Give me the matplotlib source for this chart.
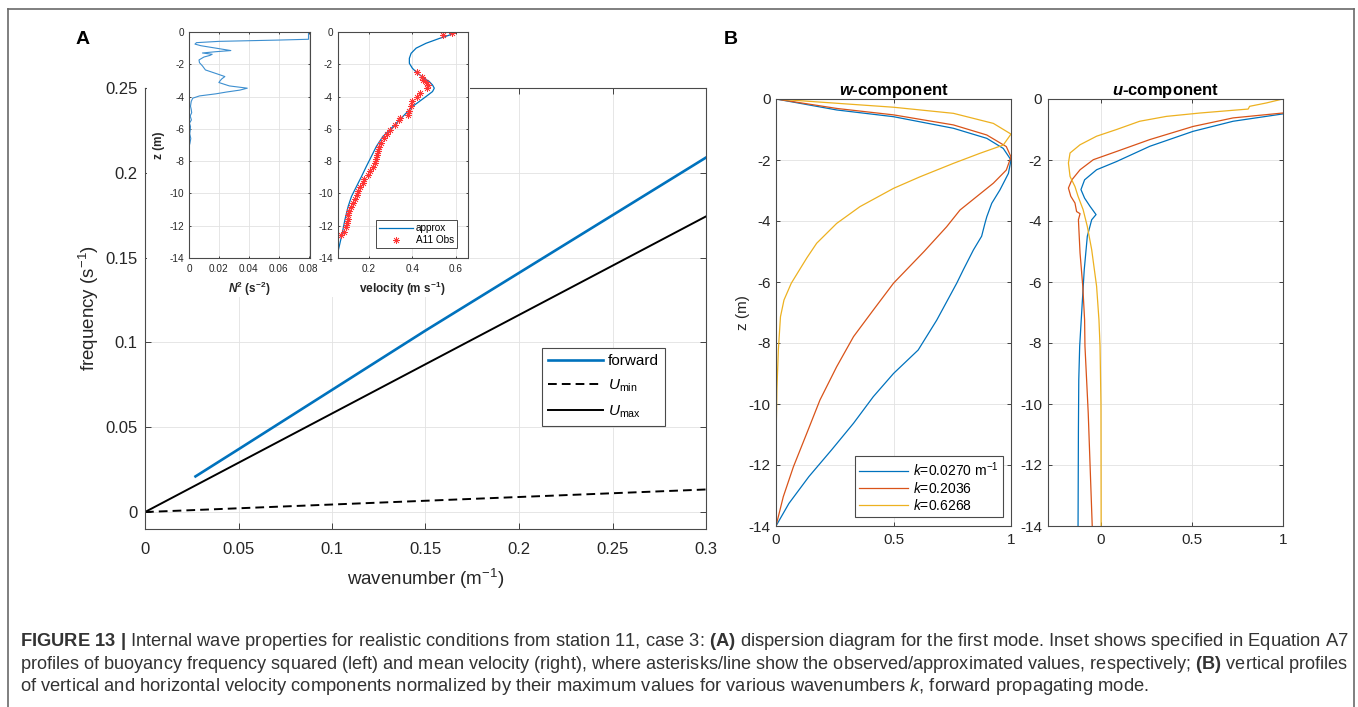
import matplotlib
matplotlib.use("Agg")
import matplotlib.pyplot as plt
from matplotlib.ticker import FuncFormatter
from matplotlib.patches import Rectangle
from matplotlib.lines import Line2D

plt.rcParams["font.family"] = ["Liberation Sans", "DejaVu Sans"]
plt.rcParams["mathtext.fontset"] = "custom"
plt.rcParams["mathtext.rm"] = "Liberation Sans"
plt.rcParams["mathtext.it"] = "Liberation Sans:italic"
plt.rcParams["mathtext.bf"] = "Liberation Sans:bold"
plt.rcParams["mathtext.bfit"] = "Liberation Sans:bold:italic"
plt.rcParams["axes.unicode_minus"] = False

# ---------------- data ----------------
# (A) dispersion diagram
k_forward = [0.027, 0.05, 0.10, 0.15, 0.20, 0.25, 0.30]
freq_forward = [0.021, 0.037, 0.072, 0.107, 0.141, 0.175, 0.209]
k_bounds = [0.0, 0.30]
freq_umin = [0.0, 0.0133]
freq_umax = [0.0, 0.1743]
wavenumber_ticks = [0, 0.05, 0.1, 0.15, 0.2, 0.25, 0.3]
frequency_ticks = [0, 0.05, 0.1, 0.15, 0.2, 0.25]

# inset: buoyancy frequency squared profile
n2_z = [0, -0.45, -0.5, -0.58, -0.66, -0.75, -0.85, -1.0, -1.15, -1.22, -1.3,
        -1.38, -1.45, -1.55, -1.73, -1.9, -2.1, -2.35, -2.6, -2.76, -2.9,
        -3.0, -3.13, -3.34, -3.48, -3.6, -3.72, -3.83, -3.96, -4.1, -4.3,
        -4.6, -4.8, -5.0, -5.2, -5.45, -5.65, -5.85, -6.1, -6.3, -6.6,
        -6.9, -7.1, -8.0, -14.0]
n2_val = [0.080, 0.080, 0.060, 0.020, 0.005, 0.004, 0.008, 0.018, 0.028,
          0.018, 0.009, 0.0155, 0.014, 0.010, 0.0067, 0.007, 0.009, 0.011,
          0.019, 0.024, 0.022, 0.021, 0.020, 0.027, 0.039, 0.034, 0.025,
          0.018, 0.007, 0.0025, 0.0015, 0.001, 0.0015, 0.0018, 0.0008,
          0.0016, 0.0003, 0.001, 0.0008, 0.0005, 0.0012, 0.0006, 0.0,
          0.0, 0.0]
n2_ticks = [0, 0.02, 0.04, 0.06, 0.08]

# inset: mean velocity, approximation and observations
vel_z = [0, -0.2, -0.4, -0.7, -1.0, -1.32, -1.63, -1.94, -2.25, -2.56,
         -2.87, -3.07, -3.28, -3.48, -3.69, -4.0, -4.62, -5.24, -5.86,
         -6.47, -7.09, -7.71, -8.33, -8.95, -9.57, -10.19, -10.8, -11.63,
         -12.45, -13.28, -14.0]
vel_approx = [0.595, 0.568, 0.523, 0.462, 0.417, 0.394, 0.386, 0.386, 0.40,
              0.424, 0.455, 0.477, 0.492, 0.50, 0.492, 0.462, 0.40, 0.356,
              0.311, 0.265, 0.235, 0.212, 0.189, 0.167, 0.144, 0.121, 0.106,
              0.091, 0.079, 0.065, 0.052]
obs_z = [-0.08, -0.19, -2.5, -2.8, -2.97, -3.1, -3.28, -3.45, -3.8, -4.0,
         -4.3, -4.6, -4.9, -5.15, -5.3, -5.45, -5.75, -6.05, -6.3, -6.55,
         -6.85, -7.1, -7.35, -7.6, -7.85, -8.1, -8.35, -8.6, -8.85, -9.1,
         -9.35, -9.6, -9.85, -10.1, -10.35, -10.6, -10.85, -11.1, -11.35,
         -11.6, -11.85, -12.1, -12.4, -12.6]
obs_vel = [0.58, 0.54, 0.42, 0.445, 0.45, 0.46, 0.473, 0.465, 0.435, 0.42,
           0.40, 0.395, 0.385, 0.38, 0.345, 0.34, 0.32, 0.296, 0.285, 0.27,
           0.258, 0.248, 0.243, 0.24, 0.235, 0.228, 0.218, 0.205, 0.195,
           0.180, 0.172, 0.158, 0.150, 0.145, 0.135, 0.128, 0.120, 0.112,
           0.105, 0.103, 0.100, 0.095, 0.085, 0.073]
vel_ticks = [0.2, 0.4, 0.6]
z_ticks = [0, -2, -4, -6, -8, -10, -12, -14]

# (B) normalized vertical velocity profiles
wavenumber_labels = [r"$k$=0.0270 m$^{-1}$", r"$k$=0.2036", r"$k$=0.6268"]
w_z_1 = [0, -0.36, -0.58, -0.96, -1.29, -1.62, -2.0, -2.44, -2.98, -3.42,
         -3.86, -4.08, -4.5, -4.95, -5.6, -6.04, -7.25, -8.23, -9.0, -9.76,
         -10.63, -11.5, -12.38, -13.26, -14.0]
w_val_1 = [0, 0.259, 0.5, 0.755, 0.897, 0.967, 1.0, 0.989, 0.953, 0.918,
           0.897, 0.889, 0.875, 0.84, 0.797, 0.769, 0.684, 0.605, 0.5, 0.414,
           0.33, 0.237, 0.14, 0.055, 0.0]
w_z_2 = [0, -0.31, -0.52, -0.85, -1.18, -1.56, -1.9, -2.33, -2.76, -3.2,
         -3.64, -4.19, -5.0, -6.04, -6.92, -7.79, -8.78, -9.87, -10.96,
         -12.06, -13.04, -14.0]
w_val_2 = [0, 0.259, 0.5, 0.755, 0.897, 0.98, 1.0, 0.98, 0.925, 0.854,
           0.783, 0.726, 0.63, 0.5, 0.414, 0.33, 0.258, 0.187, 0.131, 0.074,
           0.031, 0.0]
w_z_3 = [0, -0.14, -0.27, -0.47, -0.8, -1.15, -1.51, -1.78, -2.11, -2.55,
         -2.93, -3.53, -4.08, -4.73, -5.2, -5.6, -6.04, -6.59, -7.14, -8.23,
         -9.5, -10.8, -14.0]
w_val_3 = [0, 0.259, 0.5, 0.755, 0.925, 1.0, 0.967, 0.868, 0.755, 0.613,
           0.5, 0.357, 0.258, 0.173, 0.132, 0.1, 0.065, 0.034, 0.019, 0.01,
           0.004, 0.001, 0.0]

# (B) normalized horizontal velocity profiles
u_z_1 = [-0.49, -0.73, -1.06, -1.55, -2.05, -2.32, -2.65, -2.97, -3.25,
         -3.52, -3.79, -3.96, -4.5, -5.6, -6.69, -8.1, -9.2, -10.84, -14.0]
u_val_1 = [1.0, 0.727, 0.507, 0.269, 0.086, -0.024, -0.09, -0.11, -0.09,
           -0.06, -0.027, -0.051, -0.075, -0.092, -0.103, -0.117, -0.122,
           -0.124, -0.126]
u_z_2 = [-0.46, -0.62, -0.9, -1.33, -1.72, -1.99, -2.32, -2.65, -2.92,
         -3.19, -3.41, -3.69, -3.76, -3.96, -5.05, -6.14, -7.24, -8.1,
         -10.3, -14.0]
u_val_2 = [1.0, 0.727, 0.507, 0.269, 0.086, -0.042, -0.115, -0.16, -0.179,
           -0.166, -0.143, -0.134, -0.115, -0.124, -0.115, -0.1, -0.09,
           -0.088, -0.07, -0.048]
u_z_3 = [0, -0.13, -0.24, -0.33, -0.37, -0.46, -0.57, -0.73, -1.0, -1.22,
         -1.5, -1.77, -2.1, -2.54, -2.87, -3.19, -3.63, -4.18, -4.94, -6.14,
         -7.24, -8.1, -10.0, -14.0]
u_val_3 = [1.0, 0.91, 0.818, 0.81, 0.727, 0.544, 0.36, 0.213, 0.086, -0.024,
           -0.115, -0.17, -0.179, -0.17, -0.143, -0.126, -0.098, -0.075,
           -0.051, -0.024, -0.011, -0.005, 0.0, 0.001]
unit_ticks = [0, 0.5, 1]

# ---------------- styling ----------------
BLUE = "#0072BD"
ORANGE = "#D95319"
YELLOW = "#EDB120"
TICK_COLOR = "#262626"
SPINE_COLOR = "#4a4a4a"
GRID_COLOR = "#e2e2e2"

W, H = 1358, 707
fig = plt.figure(figsize=(W / 100, H / 100), dpi=100)


def px_axes(x0, y0, x1, y1):
    """Axes from pixel box (left, top, right, bottom)."""
    return fig.add_axes([x0 / W, 1 - y1 / H, (x1 - x0) / W, (y1 - y0) / H])


def g_fmt(v, _):
    return "%g" % v


def style(ax, ticklen, padx, pady, size):
    ax.tick_params(direction="in", length=ticklen, width=0.6, top=True,
                   right=True, labelsize=size, colors=TICK_COLOR)
    ax.tick_params(axis="x", pad=padx)
    ax.tick_params(axis="y", pad=pady)
    for s in ax.spines.values():
        s.set_color(SPINE_COLOR)
        s.set_linewidth(0.8)
    ax.grid(True, color=GRID_COLOR, lw=0.6)
    ax.set_axisbelow(True)
    ax.xaxis.set_major_formatter(FuncFormatter(g_fmt))
    ax.yaxis.set_major_formatter(FuncFormatter(g_fmt))


# ---------------- panel A ----------------
axA = px_axes(145, 88, 706, 529)
axA.plot(k_forward, freq_forward, color=BLUE, lw=1.9, label="forward")
axA.plot(k_bounds, freq_umin, color="black", lw=1.4, ls=(0, (4.5, 2.6)),
         label=r"$U_{\mathrm{min}}$")
axA.plot(k_bounds, freq_umax, color="black", lw=1.4, label=r"$U_{\mathrm{max}}$")
axA.set_xlim(0, 0.3)
axA.set_ylim(-0.01, 0.25)
axA.set_xticks(wavenumber_ticks)
axA.set_yticks(frequency_ticks)
style(axA, 4, 9, 5.5, 12)
axA.set_xlabel(r"wavenumber (m$^{-1}$)", fontsize=13.5, color=TICK_COLOR)
axA.set_ylabel(r"frequency (s$^{-1}$)", fontsize=13.5, color=TICK_COLOR)
axA.xaxis.set_label_coords(0.5, -0.085)
axA.yaxis.set_label_coords(-0.078, 0.5)
legA = axA.legend(loc="upper right", bbox_to_anchor=(0.927, 0.41),
                  fontsize=11, frameon=True, fancybox=False, framealpha=1,
                  edgecolor=SPINE_COLOR, borderaxespad=0, handlelength=3.6,
                  handletextpad=0.3, labelspacing=0.62, borderpad=0.4)
legA.get_frame().set_linewidth(0.8)

# white backing under the insets
fig.patches.append(Rectangle((147 / W, 1 - 297 / H), (470 - 147) / W,
                             (297 - 87) / H, transform=fig.transFigure,
                             facecolor="white", edgecolor="none", zorder=1))

# inset: N^2
axN = px_axes(189, 32, 310, 258)
axN.set_zorder(3)
axN.plot(n2_val, n2_z, color="#3d8fd0", lw=0.8)
axN.set_xlim(0, 0.081)
axN.set_ylim(-14, 0)
axN.set_xticks(n2_ticks)
axN.set_yticks(z_ticks)
style(axN, 1.6, 4.5, 3.5, 7.2)
axN.set_xlabel(r"$\mathbfit{N}^{\mathbf{2}}$ (s$^{\mathbf{-2}}$)",
               fontsize=8.5, fontweight="bold", color=TICK_COLOR)
axN.set_ylabel("z (m)", fontsize=8.5, fontweight="bold", color=TICK_COLOR)
axN.xaxis.set_label_coords(0.5, -0.095)
axN.yaxis.set_label_coords(-0.2, 0.5)

# inset: velocity
axV = px_axes(337.7, 32, 467.7, 258)
axV.set_zorder(3)
axV.plot(vel_approx, vel_z, color=BLUE, lw=0.9, label="approx")
axV.plot(obs_vel, obs_z, ls="none", marker=(8, 2, 0), ms=5, mew=0.5,
         color="#ff3535", label="A11 Obs")
axV.set_xlim(0.058, 0.653)
axV.set_ylim(-14, 0)
axV.set_xticks(vel_ticks)
axV.set_yticks(z_ticks)
style(axV, 1.6, 4.5, 3.5, 7.2)
axV.set_xlabel(r"velocity (m s$^{\mathbf{-1}}$)", fontsize=8.5,
               fontweight="bold", color=TICK_COLOR)
axV.xaxis.set_label_coords(0.5, -0.095)
legV = axV.legend(loc="lower right", bbox_to_anchor=(0.918, 0.044),
                  fontsize=7.2, frameon=True, fancybox=False, framealpha=1,
                  edgecolor=SPINE_COLOR, borderaxespad=0, handlelength=3.4,
                  handletextpad=0.3, labelspacing=0.2, borderpad=0.3)
legV.get_frame().set_linewidth(0.7)

# ---------------- panel B ----------------
axW = px_axes(776, 99, 1011, 526)
for z, v, c, lab in [(w_z_1, w_val_1, BLUE, wavenumber_labels[0]),
                     (w_z_2, w_val_2, ORANGE, wavenumber_labels[1]),
                     (w_z_3, w_val_3, YELLOW, wavenumber_labels[2])]:
    axW.plot(v, z, color=c, lw=0.9, label=lab)
axW.set_xlim(0, 1)
axW.set_ylim(-14, 0)
axW.set_xticks(unit_ticks)
axW.set_yticks(z_ticks)
style(axW, 3, 5, 4, 11)
axW.set_title(r"$\mathbfit{w}$-component", fontsize=12, fontweight="bold",
              pad=3, color="black")
axW.set_ylabel("z (m)", fontsize=11, color=TICK_COLOR)
axW.yaxis.set_label_coords(-0.11, 0.5)
legW = axW.legend(loc="lower right", bbox_to_anchor=(0.966, 0.021),
                  fontsize=10, frameon=True, fancybox=False, framealpha=1,
                  edgecolor=SPINE_COLOR, borderaxespad=0, handlelength=3.5,
                  handletextpad=0.4, labelspacing=0.15, borderpad=0.3)
legW.get_frame().set_linewidth(0.8)

axU = px_axes(1047.7, 99, 1282.7, 526)
for z, v, c in [(u_z_1, u_val_1, BLUE), (u_z_2, u_val_2, ORANGE),
                (u_z_3, u_val_3, YELLOW)]:
    axU.plot(v, z, color=c, lw=0.9)
axU.set_xlim(-0.293, 1)
axU.set_ylim(-14, 0)
axU.set_xticks(unit_ticks)
axU.set_yticks(z_ticks)
style(axU, 3, 5, 4, 11)
axU.set_title(r"$\mathbfit{u}$-component", fontsize=12, fontweight="bold",
              pad=3, color="black")

# panel letters
fig.text(83 / W, 1 - 40 / H, "A", fontsize=14, fontweight="bold",
         ha="center", va="center")
fig.text(731 / W, 1 - 40 / H, "B", fontsize=14, fontweight="bold",
         ha="center", va="center")

# ---------------- caption ----------------
caption_lines = [
    r"$\mathbf{FIGURE\ 13\ |}$ Internal wave properties for realistic conditions "
    r"from station 11, case 3: $\mathbf{(A)}$ dispersion diagram for the first "
    r"mode. Inset shows specified in Equation A7",
    r"profiles of buoyancy frequency squared (left) and mean velocity (right), "
    r"where asterisks/line show the observed/approximated values, respectively; "
    r"$\mathbf{(B)}$ vertical profiles",
    r"of vertical and horizontal velocity components normalized by their maximum "
    r"values for various wavenumbers $k$, forward propagating mode.",
]
caption_baselines = [646, 669, 691]
cap_texts = []
for line, yb in zip(caption_lines, caption_baselines):
    cap_texts.append(fig.text(20 / W, 1 - yb / H, line, fontsize=11,
                              color="#333333", ha="left", va="baseline"))
renderer = fig.canvas.get_renderer()
# the first two lines are justified to the full caption width
sizes = []
for t in cap_texts[:2]:
    w0 = t.get_window_extent(renderer=renderer).width
    sizes.append(11 * (1343 - 20) / w0)
cap_texts[0].set_fontsize(sizes[0])
cap_texts[1].set_fontsize(sizes[1])
cap_texts[2].set_fontsize(sizes[0])

# outer frame
frame_kw = dict(transform=fig.transFigure, color="#6a6a6a", lw=1.2)
fig.add_artist(Line2D([8 / W, 8 / W], [0, 1 - 9 / H], **frame_kw))
fig.add_artist(Line2D([8 / W, 1354 / W], [1 - 9 / H, 1 - 9 / H], **frame_kw))
fig.add_artist(Line2D([1354 / W, 1354 / W], [0, 1 - 9 / H], **frame_kw))

fig.savefig("out.png", dpi=100)
